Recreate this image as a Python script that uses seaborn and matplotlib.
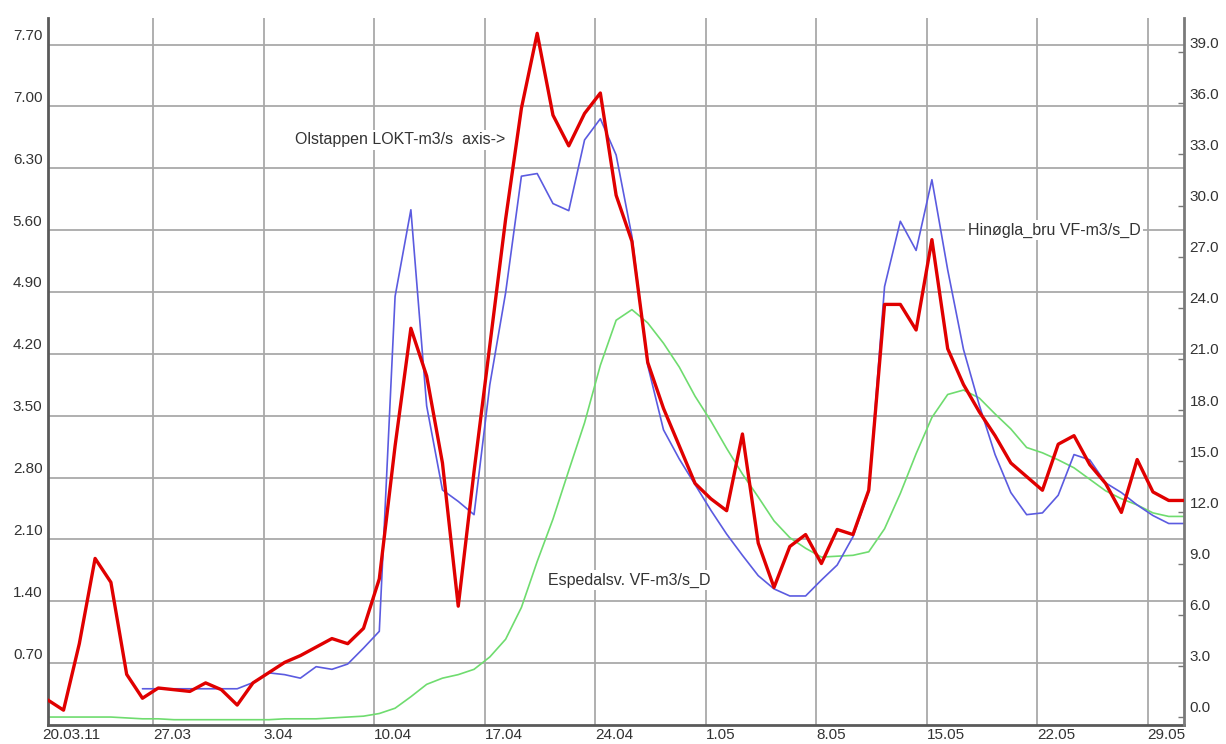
import numpy as np
import pandas as pd
import matplotlib
matplotlib.use("Agg")
import matplotlib.pyplot as plt
from matplotlib.transforms import ScaledTranslation
import seaborn as sns

# ---------------- data ----------------
first_day = pd.Timestamp("2011-03-20 08:00")
n_days = 73
dates = pd.date_range(first_day, periods=n_days, freq="D")

# Olstappen LOKT (right axis, m3/s)
olstappen = [1.0, 0.4, 4.3, 9.3, 7.9, 2.5, 1.1, 1.7, 1.6, 1.5,
             2.0, 1.6, 0.7, 2.0, 2.6, 3.2, 3.6, 4.1, 4.6, 4.3,
             5.2, 8.1, 15.9, 22.8, 20.0, 14.9, 6.5, 14.4, 21.8, 29.2,
             35.7, 40.1, 35.3, 33.5, 35.4, 36.6, 30.6, 27.9, 20.8, 18.1,
             15.9, 13.7, 12.8, 12.1, 16.6, 10.2, 7.6, 10.0, 10.7, 9.0,
             11.0, 10.7, 13.3, 24.2, 24.2, 22.7, 28.0, 21.6, 19.5, 17.9,
             16.5, 14.9, 14.1, 13.3, 16.0, 16.5, 14.8, 13.7, 12.0, 15.1,
             13.2, 12.7, 12.7]

# Hinøgla bru (left axis, m3/s)
hinogla = [np.nan] * 6 + [
    0.41, 0.41, 0.41, 0.41, 0.41, 0.41, 0.41, 0.48, 0.59, 0.57,
    0.53, 0.66, 0.63, 0.69, 0.87, 1.06, 4.85, 5.83, 3.61, 2.66,
    2.53, 2.38, 3.85, 4.89, 6.21, 6.24, 5.90, 5.82, 6.62, 6.86,
    6.45, 5.53, 4.07, 3.34, 3.01, 2.72, 2.43, 2.16, 1.92, 1.69,
    1.54, 1.46, 1.46, 1.64, 1.81, 2.13, 2.64, 4.96, 5.70, 5.37,
    6.17, 5.15, 4.25, 3.62, 3.06, 2.63, 2.38, 2.40, 2.60, 3.06,
    3.00, 2.74, 2.63, 2.49, 2.37, 2.28, 2.28]

# Espedalsv. (left axis, m3/s)
espedal = [0.09, 0.09, 0.09, 0.09, 0.09, 0.08, 0.07, 0.07, 0.06, 0.06,
           0.06, 0.06, 0.06, 0.06, 0.06, 0.07, 0.07, 0.07, 0.08, 0.09,
           0.10, 0.13, 0.19, 0.32, 0.46, 0.53, 0.57, 0.63, 0.77, 0.97,
           1.33, 1.85, 2.33, 2.88, 3.42, 4.07, 4.58, 4.70, 4.55, 4.32,
           4.05, 3.72, 3.44, 3.13, 2.84, 2.58, 2.31, 2.12, 2.00, 1.90,
           1.91, 1.92, 1.96, 2.22, 2.62, 3.07, 3.48, 3.74, 3.79, 3.70,
           3.52, 3.35, 3.14, 3.08, 3.00, 2.91, 2.78, 2.65, 2.56, 2.49,
           2.40, 2.36, 2.36]

tick_labels = ["20.03.11", "27.03", "3.04", "10.04", "17.04", "24.04",
               "1.05", "8.05", "15.05", "22.05", "29.05"]
left_ticks = [0.70, 1.40, 2.10, 2.80, 3.50, 4.20, 4.90, 5.60, 6.30, 7.00, 7.70]
right_ticks = [0.0, 3.0, 6.0, 9.0, 12.0, 15.0, 18.0, 21.0, 24.0, 27.0,
               30.0, 33.0, 36.0, 39.0]

label_olst = "Olstappen LOKT-m3/s  axis->"
label_hin = "Hinøgla_bru VF-m3/s_D"
label_esp = "Espedalsv. VF-m3/s_D"

df = pd.DataFrame({"date": dates, "olstappen": olstappen,
                   "hinogla": hinogla, "espedal": espedal})

# ---------------- style ----------------
sns.set_theme(style="white")
plt.rcParams["font.family"] = ["Liberation Sans", "DejaVu Sans"]

fig = plt.figure(figsize=(12.26, 7.44), dpi=100)
W, H = 1226, 744
ax = fig.add_axes([48 / W, 1 - 725 / H, (1184 - 48) / W, (725 - 18) / H])

sns.lineplot(data=df, x="date", y="espedal", ax=ax, color="#6fdc6f",
             linewidth=1.2, zorder=2)
sns.lineplot(data=df, x="date", y="hinogla", ax=ax, color="#5b5be0",
             linewidth=1.2, zorder=3)

ax2 = ax.twinx()
sns.lineplot(data=df, x="date", y="olstappen", ax=ax2, color="#e00000",
             linewidth=2.4, zorder=3)

base = pd.Timestamp("2011-03-20")
x_left = base + pd.Timedelta(days=0.35)
x_right = base + pd.Timedelta(days=72.3)
ax.set_xlim(x_left, x_right)
ax2.set_xlim(x_left, x_right)

ax.set_ylim(0, 8.0)
ax2.set_ylim(-0.47, 41.0)

tick_pos = [x_left] + [base + pd.Timedelta(days=7 * k) for k in range(1, len(tick_labels))]
ax.set_xticks(tick_pos)
ax.set_xticklabels(tick_labels)
ax.set_yticks(left_ticks)
ax.set_yticklabels([f"{v:.2f}" for v in left_ticks])
ax2.set_yticks(right_ticks)
ax2.set_yticklabels([f"{v:.1f}" for v in right_ticks])

ax.set_xlabel("")
ax.set_ylabel("")
ax2.set_ylabel("")

ax.grid(True, color="#a9a9a9", linewidth=1.3)
ax.set_axisbelow(True)

text_color = "#333333"
ax.tick_params(axis="x", length=0, pad=2, labelsize=11, labelcolor=text_color)
ax.tick_params(axis="y", length=0, pad=4, labelsize=11, labelcolor=text_color)
ax2.tick_params(axis="y", direction="in", length=4, width=1, color="#777777",
                pad=4, labelsize=11, labelcolor=text_color)

for lab in ax.get_xticklabels():
    lab.set_horizontalalignment("left")
first = ax.get_xticklabels()[0]
first.set_transform(first.get_transform() + ScaledTranslation(-0.06, 0, fig.dpi_scale_trans))

up = ScaledTranslation(0, 0.10, fig.dpi_scale_trans)
for lab in ax.get_yticklabels() + ax2.get_yticklabels():
    lab.set_transform(lab.get_transform() + up)

for s in ["top", "right"]:
    ax.spines[s].set_visible(False)
for s in ["left", "bottom"]:
    ax.spines[s].set_color("#5a5a5a")
    ax.spines[s].set_linewidth(2)
for s in ["top", "left", "bottom"]:
    ax2.spines[s].set_visible(False)
ax2.spines["right"].set_color("#7a7a7a")
ax2.spines["right"].set_linewidth(2)

box = dict(facecolor="white", edgecolor="none", pad=2)
ax.text(base + pd.Timedelta(days=16.0), 6.62, label_olst, fontsize=11.5,
        color=text_color, ha="left", va="center", bbox=box, zorder=1.5)
ax.text(base + pd.Timedelta(days=58.6), 5.60, label_hin, fontsize=11.5,
        color=text_color, ha="left", va="center", bbox=box, zorder=1.5)
ax.text(base + pd.Timedelta(days=32.0), 1.64, label_esp, fontsize=11.5,
        color=text_color, ha="left", va="center", bbox=box, zorder=1.5)

fig.savefig("out.png", dpi=100, facecolor="white")
